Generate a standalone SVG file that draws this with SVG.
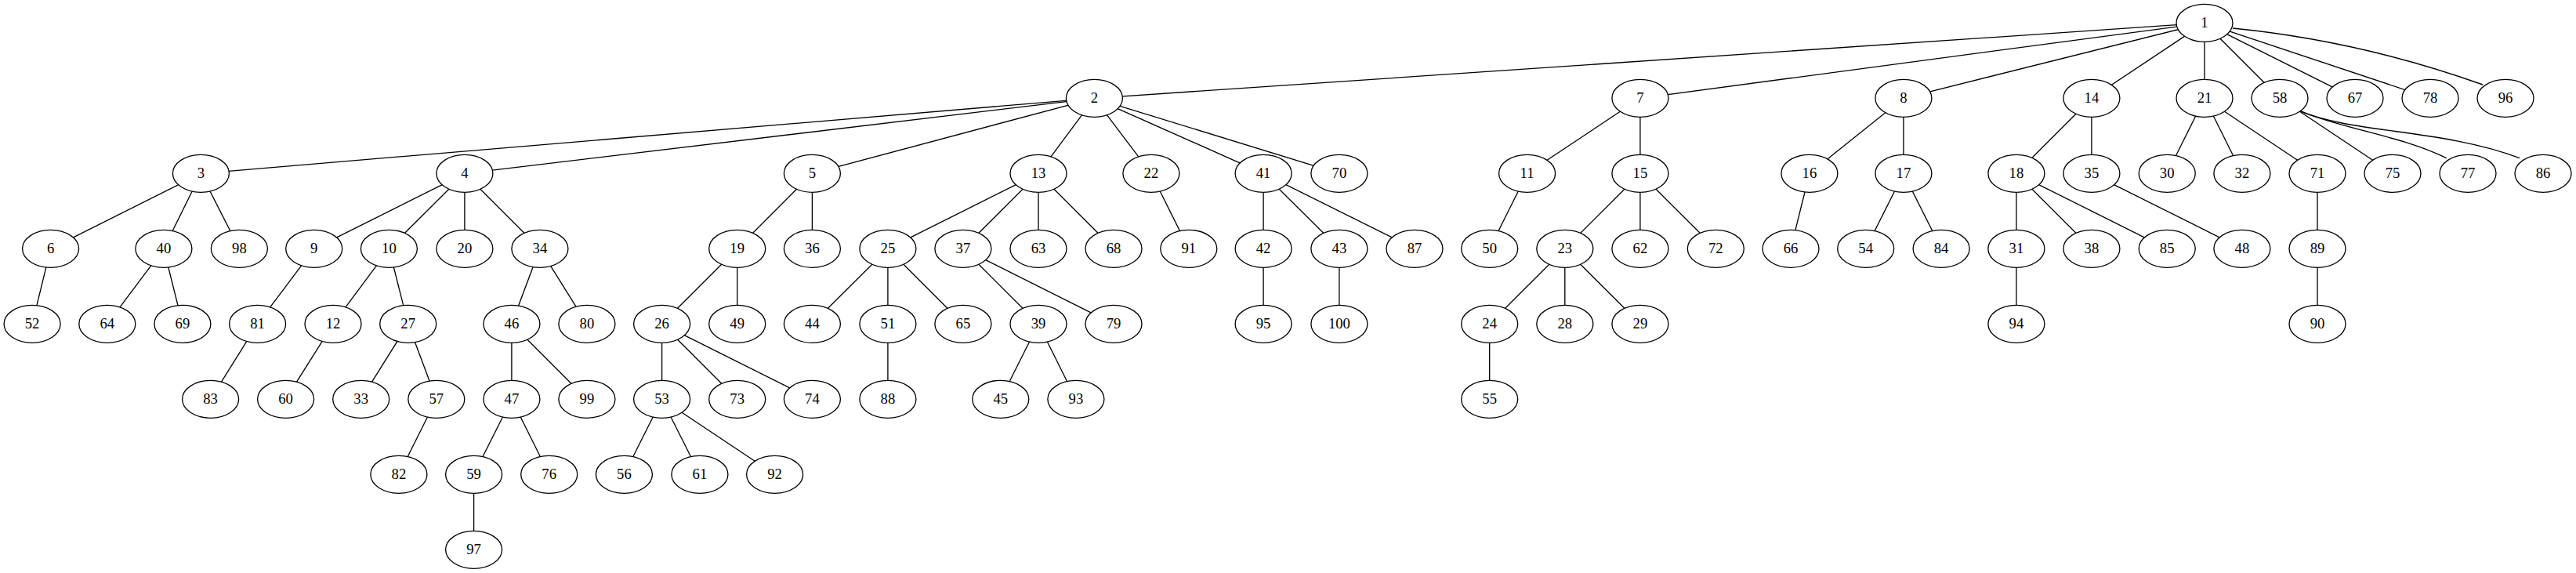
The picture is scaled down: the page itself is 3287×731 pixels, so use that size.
<svg xmlns="http://www.w3.org/2000/svg" width="3287" height="731" viewBox="0 0 3287 731">
<style>
.node ellipse{fill:#fff;stroke:#000;stroke-width:1.33}
.node text{font-family:"Liberation Serif","Times New Roman",serif;font-size:18.67px;text-anchor:middle;fill:#000}
#edges line,#edges path{stroke:#000;stroke-width:1.33;fill:none}
</style>
<rect width="3287" height="731" fill="#fff"/>
<g id="edges">
<line x1="2813" y1="29.3" x2="1396.4" y2="125.3"/>
<line x1="2813" y1="29.3" x2="2092.9" y2="125.3"/>
<line x1="2813" y1="29.3" x2="2428.9" y2="125.3"/>
<line x1="2813" y1="29.3" x2="2668.9" y2="125.3"/>
<line x1="2813" y1="29.3" x2="2813" y2="125.3"/>
<line x1="2813" y1="29.3" x2="2909" y2="125.3"/>
<line x1="2813" y1="29.3" x2="3005" y2="125.3"/>
<line x1="2813" y1="29.3" x2="3101" y2="125.3"/>
<path d="M2849,36 Q3011,52 3168,108"/>
<line x1="1396.4" y1="125.3" x2="256.4" y2="221.3"/>
<line x1="1396.4" y1="125.3" x2="592.9" y2="221.3"/>
<line x1="1396.4" y1="125.3" x2="1036.4" y2="221.3"/>
<line x1="1396.4" y1="125.3" x2="1325" y2="221.3"/>
<line x1="1396.4" y1="125.3" x2="1468.9" y2="221.3"/>
<line x1="1396.4" y1="125.3" x2="1612.1" y2="221.3"/>
<line x1="1396.4" y1="125.3" x2="1708.9" y2="221.3"/>
<line x1="256.4" y1="221.3" x2="64.6" y2="317.3"/>
<line x1="256.4" y1="221.3" x2="208.9" y2="317.3"/>
<line x1="256.4" y1="221.3" x2="305.4" y2="317.3"/>
<line x1="592.9" y1="221.3" x2="400.7" y2="317.3"/>
<line x1="592.9" y1="221.3" x2="496.4" y2="317.3"/>
<line x1="592.9" y1="221.3" x2="592.9" y2="317.3"/>
<line x1="592.9" y1="221.3" x2="688.9" y2="317.3"/>
<line x1="1036.4" y1="221.3" x2="940.7" y2="317.3"/>
<line x1="1036.4" y1="221.3" x2="1036.4" y2="317.3"/>
<line x1="64.6" y1="317.3" x2="41.1" y2="413.3"/>
<line x1="208.9" y1="317.3" x2="136.8" y2="413.3"/>
<line x1="208.9" y1="317.3" x2="232.9" y2="413.3"/>
<line x1="400.7" y1="317.3" x2="328.6" y2="413.3"/>
<line x1="496.4" y1="317.3" x2="425" y2="413.3"/>
<line x1="496.4" y1="317.3" x2="520.7" y2="413.3"/>
<line x1="688.9" y1="317.3" x2="652.9" y2="413.3"/>
<line x1="688.9" y1="317.3" x2="748.9" y2="413.3"/>
<line x1="940.7" y1="317.3" x2="844.6" y2="413.3"/>
<line x1="940.7" y1="317.3" x2="940.7" y2="413.3"/>
<line x1="1132.9" y1="317.3" x2="1036.4" y2="413.3"/>
<line x1="1132.9" y1="317.3" x2="1132.9" y2="413.3"/>
<line x1="1132.9" y1="317.3" x2="1228.9" y2="413.3"/>
<line x1="1325" y1="221.3" x2="1132.9" y2="317.3"/>
<line x1="1325" y1="221.3" x2="1228.9" y2="317.3"/>
<line x1="1325" y1="221.3" x2="1325" y2="317.3"/>
<line x1="1325" y1="221.3" x2="1421" y2="317.3"/>
<line x1="1468.9" y1="221.3" x2="1516.8" y2="317.3"/>
<line x1="1612.1" y1="221.3" x2="1612.1" y2="317.3"/>
<line x1="1612.1" y1="221.3" x2="1708.9" y2="317.3"/>
<line x1="1612.1" y1="221.3" x2="1805" y2="317.3"/>
<line x1="2092.9" y1="125.3" x2="1948.6" y2="221.3"/>
<line x1="2092.9" y1="125.3" x2="2092.9" y2="221.3"/>
<line x1="1948.6" y1="221.3" x2="1900.7" y2="317.3"/>
<line x1="2092.9" y1="221.3" x2="1996.8" y2="317.3"/>
<line x1="2092.9" y1="221.3" x2="2092.9" y2="317.3"/>
<line x1="2092.9" y1="221.3" x2="2189.3" y2="317.3"/>
<line x1="1996.8" y1="317.3" x2="1900.7" y2="413.3"/>
<line x1="1996.8" y1="317.3" x2="1996.8" y2="413.3"/>
<line x1="1996.8" y1="317.3" x2="2092.9" y2="413.3"/>
<line x1="1900.7" y1="413.3" x2="1900.7" y2="509.3"/>
<line x1="2428.9" y1="125.3" x2="2308.9" y2="221.3"/>
<line x1="2428.9" y1="125.3" x2="2428.9" y2="221.3"/>
<line x1="2308.9" y1="221.3" x2="2285" y2="317.3"/>
<line x1="2428.9" y1="221.3" x2="2380.7" y2="317.3"/>
<line x1="2428.9" y1="221.3" x2="2477.1" y2="317.3"/>
<line x1="2668.9" y1="125.3" x2="2572.9" y2="221.3"/>
<line x1="2668.9" y1="125.3" x2="2668.9" y2="221.3"/>
<line x1="2572.9" y1="221.3" x2="2572.9" y2="317.3"/>
<line x1="2572.9" y1="221.3" x2="2668.9" y2="317.3"/>
<line x1="2572.9" y1="221.3" x2="2765.2" y2="317.3"/>
<line x1="2572.9" y1="317.3" x2="2572.9" y2="413.3"/>
<line x1="2668.9" y1="221.3" x2="2860.9" y2="317.3"/>
<line x1="2813" y1="125.3" x2="2765.2" y2="221.3"/>
<line x1="2813" y1="125.3" x2="2860.9" y2="221.3"/>
<line x1="2813" y1="125.3" x2="2957" y2="221.3"/>
<line x1="2957" y1="221.3" x2="2957" y2="317.3"/>
<line x1="2957" y1="317.3" x2="2957" y2="413.3"/>
<line x1="2909" y1="125.3" x2="3053" y2="221.3"/>
<path d="M2935,141.7 C2990,165 3060,172 3121.7,201.7"/>
<path d="M2935,141.7 C3000,170 3120,165 3215,201.7"/>
<line x1="328.6" y1="413.3" x2="268.6" y2="509.3"/>
<line x1="425" y1="413.3" x2="364.6" y2="509.3"/>
<line x1="520.7" y1="413.3" x2="460.7" y2="509.3"/>
<line x1="520.7" y1="413.3" x2="556.8" y2="509.3"/>
<line x1="556.8" y1="509.3" x2="508.9" y2="605.3"/>
<line x1="652.9" y1="413.3" x2="652.9" y2="509.3"/>
<line x1="652.9" y1="413.3" x2="748.9" y2="509.3"/>
<line x1="652.9" y1="509.3" x2="604.6" y2="605.3"/>
<line x1="652.9" y1="509.3" x2="700.7" y2="605.3"/>
<line x1="604.6" y1="605.3" x2="604.6" y2="701.3"/>
<line x1="844.6" y1="413.3" x2="844.6" y2="509.3"/>
<line x1="844.6" y1="413.3" x2="940.7" y2="509.3"/>
<line x1="844.6" y1="413.3" x2="1036.4" y2="509.3"/>
<line x1="844.6" y1="509.3" x2="796.4" y2="605.3"/>
<line x1="844.6" y1="509.3" x2="892.9" y2="605.3"/>
<line x1="844.6" y1="509.3" x2="988.6" y2="605.3"/>
<line x1="1132.9" y1="413.3" x2="1132.9" y2="509.3"/>
<line x1="1228.9" y1="317.3" x2="1325" y2="413.3"/>
<line x1="1228.9" y1="317.3" x2="1421" y2="413.3"/>
<line x1="1325" y1="413.3" x2="1276.8" y2="509.3"/>
<line x1="1325" y1="413.3" x2="1372.9" y2="509.3"/>
<line x1="1612.1" y1="317.3" x2="1612.1" y2="413.3"/>
<line x1="1708.9" y1="317.3" x2="1708.9" y2="413.3"/>
</g>
<g id="node1" class="node"><ellipse cx="2813" cy="29.3" rx="36" ry="24"/><text x="2813" y="35.3">1</text></g>
<g id="node2" class="node"><ellipse cx="1396.4" cy="125.3" rx="36" ry="24"/><text x="1396.4" y="131.3">2</text></g>
<g id="node7" class="node"><ellipse cx="2092.9" cy="125.3" rx="36" ry="24"/><text x="2092.9" y="131.3">7</text></g>
<g id="node8" class="node"><ellipse cx="2428.9" cy="125.3" rx="36" ry="24"/><text x="2428.9" y="131.3">8</text></g>
<g id="node14" class="node"><ellipse cx="2668.9" cy="125.3" rx="36" ry="24"/><text x="2668.9" y="131.3">14</text></g>
<g id="node21" class="node"><ellipse cx="2813" cy="125.3" rx="36" ry="24"/><text x="2813" y="131.3">21</text></g>
<g id="node58" class="node"><ellipse cx="2909" cy="125.3" rx="36" ry="24"/><text x="2909" y="131.3">58</text></g>
<g id="node67" class="node"><ellipse cx="3005" cy="125.3" rx="36" ry="24"/><text x="3005" y="131.3">67</text></g>
<g id="node78" class="node"><ellipse cx="3101" cy="125.3" rx="36" ry="24"/><text x="3101" y="131.3">78</text></g>
<g id="node96" class="node"><ellipse cx="3197" cy="125.3" rx="36" ry="24"/><text x="3197" y="131.3">96</text></g>
<g id="node3" class="node"><ellipse cx="256.4" cy="221.3" rx="36" ry="24"/><text x="256.4" y="227.3">3</text></g>
<g id="node4" class="node"><ellipse cx="592.9" cy="221.3" rx="36" ry="24"/><text x="592.9" y="227.3">4</text></g>
<g id="node5" class="node"><ellipse cx="1036.4" cy="221.3" rx="36" ry="24"/><text x="1036.4" y="227.3">5</text></g>
<g id="node13" class="node"><ellipse cx="1325" cy="221.3" rx="36" ry="24"/><text x="1325" y="227.3">13</text></g>
<g id="node22" class="node"><ellipse cx="1468.9" cy="221.3" rx="36" ry="24"/><text x="1468.9" y="227.3">22</text></g>
<g id="node41" class="node"><ellipse cx="1612.1" cy="221.3" rx="36" ry="24"/><text x="1612.1" y="227.3">41</text></g>
<g id="node70" class="node"><ellipse cx="1708.9" cy="221.3" rx="36" ry="24"/><text x="1708.9" y="227.3">70</text></g>
<g id="node11" class="node"><ellipse cx="1948.6" cy="221.3" rx="36" ry="24"/><text x="1948.6" y="227.3">11</text></g>
<g id="node15" class="node"><ellipse cx="2092.9" cy="221.3" rx="36" ry="24"/><text x="2092.9" y="227.3">15</text></g>
<g id="node16" class="node"><ellipse cx="2308.9" cy="221.3" rx="36" ry="24"/><text x="2308.9" y="227.3">16</text></g>
<g id="node17" class="node"><ellipse cx="2428.9" cy="221.3" rx="36" ry="24"/><text x="2428.9" y="227.3">17</text></g>
<g id="node18" class="node"><ellipse cx="2572.9" cy="221.3" rx="36" ry="24"/><text x="2572.9" y="227.3">18</text></g>
<g id="node35" class="node"><ellipse cx="2668.9" cy="221.3" rx="36" ry="24"/><text x="2668.9" y="227.3">35</text></g>
<g id="node30" class="node"><ellipse cx="2765.2" cy="221.3" rx="36" ry="24"/><text x="2765.2" y="227.3">30</text></g>
<g id="node32" class="node"><ellipse cx="2860.9" cy="221.3" rx="36" ry="24"/><text x="2860.9" y="227.3">32</text></g>
<g id="node71" class="node"><ellipse cx="2957" cy="221.3" rx="36" ry="24"/><text x="2957" y="227.3">71</text></g>
<g id="node75" class="node"><ellipse cx="3053" cy="221.3" rx="36" ry="24"/><text x="3053" y="227.3">75</text></g>
<g id="node77" class="node"><ellipse cx="3149" cy="221.3" rx="36" ry="24"/><text x="3149" y="227.3">77</text></g>
<g id="node86" class="node"><ellipse cx="3245" cy="221.3" rx="36" ry="24"/><text x="3245" y="227.3">86</text></g>
<g id="node6" class="node"><ellipse cx="64.6" cy="317.3" rx="36" ry="24"/><text x="64.6" y="323.3">6</text></g>
<g id="node40" class="node"><ellipse cx="208.9" cy="317.3" rx="36" ry="24"/><text x="208.9" y="323.3">40</text></g>
<g id="node98" class="node"><ellipse cx="305.4" cy="317.3" rx="36" ry="24"/><text x="305.4" y="323.3">98</text></g>
<g id="node9" class="node"><ellipse cx="400.7" cy="317.3" rx="36" ry="24"/><text x="400.7" y="323.3">9</text></g>
<g id="node10" class="node"><ellipse cx="496.4" cy="317.3" rx="36" ry="24"/><text x="496.4" y="323.3">10</text></g>
<g id="node20" class="node"><ellipse cx="592.9" cy="317.3" rx="36" ry="24"/><text x="592.9" y="323.3">20</text></g>
<g id="node34" class="node"><ellipse cx="688.9" cy="317.3" rx="36" ry="24"/><text x="688.9" y="323.3">34</text></g>
<g id="node19" class="node"><ellipse cx="940.7" cy="317.3" rx="36" ry="24"/><text x="940.7" y="323.3">19</text></g>
<g id="node36" class="node"><ellipse cx="1036.4" cy="317.3" rx="36" ry="24"/><text x="1036.4" y="323.3">36</text></g>
<g id="node25" class="node"><ellipse cx="1132.9" cy="317.3" rx="36" ry="24"/><text x="1132.9" y="323.3">25</text></g>
<g id="node37" class="node"><ellipse cx="1228.9" cy="317.3" rx="36" ry="24"/><text x="1228.9" y="323.3">37</text></g>
<g id="node63" class="node"><ellipse cx="1325" cy="317.3" rx="36" ry="24"/><text x="1325" y="323.3">63</text></g>
<g id="node68" class="node"><ellipse cx="1421" cy="317.3" rx="36" ry="24"/><text x="1421" y="323.3">68</text></g>
<g id="node91" class="node"><ellipse cx="1516.8" cy="317.3" rx="36" ry="24"/><text x="1516.8" y="323.3">91</text></g>
<g id="node42" class="node"><ellipse cx="1612.1" cy="317.3" rx="36" ry="24"/><text x="1612.1" y="323.3">42</text></g>
<g id="node43" class="node"><ellipse cx="1708.9" cy="317.3" rx="36" ry="24"/><text x="1708.9" y="323.3">43</text></g>
<g id="node87" class="node"><ellipse cx="1805" cy="317.3" rx="36" ry="24"/><text x="1805" y="323.3">87</text></g>
<g id="node50" class="node"><ellipse cx="1900.7" cy="317.3" rx="36" ry="24"/><text x="1900.7" y="323.3">50</text></g>
<g id="node23" class="node"><ellipse cx="1996.8" cy="317.3" rx="36" ry="24"/><text x="1996.8" y="323.3">23</text></g>
<g id="node62" class="node"><ellipse cx="2092.9" cy="317.3" rx="36" ry="24"/><text x="2092.9" y="323.3">62</text></g>
<g id="node72" class="node"><ellipse cx="2189.3" cy="317.3" rx="36" ry="24"/><text x="2189.3" y="323.3">72</text></g>
<g id="node66" class="node"><ellipse cx="2285" cy="317.3" rx="36" ry="24"/><text x="2285" y="323.3">66</text></g>
<g id="node54" class="node"><ellipse cx="2380.7" cy="317.3" rx="36" ry="24"/><text x="2380.7" y="323.3">54</text></g>
<g id="node84" class="node"><ellipse cx="2477.1" cy="317.3" rx="36" ry="24"/><text x="2477.1" y="323.3">84</text></g>
<g id="node31" class="node"><ellipse cx="2572.9" cy="317.3" rx="36" ry="24"/><text x="2572.9" y="323.3">31</text></g>
<g id="node38" class="node"><ellipse cx="2668.9" cy="317.3" rx="36" ry="24"/><text x="2668.9" y="323.3">38</text></g>
<g id="node85" class="node"><ellipse cx="2765.2" cy="317.3" rx="36" ry="24"/><text x="2765.2" y="323.3">85</text></g>
<g id="node48" class="node"><ellipse cx="2860.9" cy="317.3" rx="36" ry="24"/><text x="2860.9" y="323.3">48</text></g>
<g id="node89" class="node"><ellipse cx="2957" cy="317.3" rx="36" ry="24"/><text x="2957" y="323.3">89</text></g>
<g id="node52" class="node"><ellipse cx="41.1" cy="413.3" rx="36" ry="24"/><text x="41.1" y="419.3">52</text></g>
<g id="node64" class="node"><ellipse cx="136.8" cy="413.3" rx="36" ry="24"/><text x="136.8" y="419.3">64</text></g>
<g id="node69" class="node"><ellipse cx="232.9" cy="413.3" rx="36" ry="24"/><text x="232.9" y="419.3">69</text></g>
<g id="node81" class="node"><ellipse cx="328.6" cy="413.3" rx="36" ry="24"/><text x="328.6" y="419.3">81</text></g>
<g id="node12" class="node"><ellipse cx="425" cy="413.3" rx="36" ry="24"/><text x="425" y="419.3">12</text></g>
<g id="node27" class="node"><ellipse cx="520.7" cy="413.3" rx="36" ry="24"/><text x="520.7" y="419.3">27</text></g>
<g id="node46" class="node"><ellipse cx="652.9" cy="413.3" rx="36" ry="24"/><text x="652.9" y="419.3">46</text></g>
<g id="node80" class="node"><ellipse cx="748.9" cy="413.3" rx="36" ry="24"/><text x="748.9" y="419.3">80</text></g>
<g id="node26" class="node"><ellipse cx="844.6" cy="413.3" rx="36" ry="24"/><text x="844.6" y="419.3">26</text></g>
<g id="node49" class="node"><ellipse cx="940.7" cy="413.3" rx="36" ry="24"/><text x="940.7" y="419.3">49</text></g>
<g id="node44" class="node"><ellipse cx="1036.4" cy="413.3" rx="36" ry="24"/><text x="1036.4" y="419.3">44</text></g>
<g id="node51" class="node"><ellipse cx="1132.9" cy="413.3" rx="36" ry="24"/><text x="1132.9" y="419.3">51</text></g>
<g id="node65" class="node"><ellipse cx="1228.9" cy="413.3" rx="36" ry="24"/><text x="1228.9" y="419.3">65</text></g>
<g id="node39" class="node"><ellipse cx="1325" cy="413.3" rx="36" ry="24"/><text x="1325" y="419.3">39</text></g>
<g id="node79" class="node"><ellipse cx="1421" cy="413.3" rx="36" ry="24"/><text x="1421" y="419.3">79</text></g>
<g id="node95" class="node"><ellipse cx="1612.1" cy="413.3" rx="36" ry="24"/><text x="1612.1" y="419.3">95</text></g>
<g id="node100" class="node"><ellipse cx="1708.9" cy="413.3" rx="36" ry="24"/><text x="1708.9" y="419.3">100</text></g>
<g id="node24" class="node"><ellipse cx="1900.7" cy="413.3" rx="36" ry="24"/><text x="1900.7" y="419.3">24</text></g>
<g id="node28" class="node"><ellipse cx="1996.8" cy="413.3" rx="36" ry="24"/><text x="1996.8" y="419.3">28</text></g>
<g id="node29" class="node"><ellipse cx="2092.9" cy="413.3" rx="36" ry="24"/><text x="2092.9" y="419.3">29</text></g>
<g id="node94" class="node"><ellipse cx="2572.9" cy="413.3" rx="36" ry="24"/><text x="2572.9" y="419.3">94</text></g>
<g id="node90" class="node"><ellipse cx="2957" cy="413.3" rx="36" ry="24"/><text x="2957" y="419.3">90</text></g>
<g id="node83" class="node"><ellipse cx="268.6" cy="509.3" rx="36" ry="24"/><text x="268.6" y="515.3">83</text></g>
<g id="node60" class="node"><ellipse cx="364.6" cy="509.3" rx="36" ry="24"/><text x="364.6" y="515.3">60</text></g>
<g id="node33" class="node"><ellipse cx="460.7" cy="509.3" rx="36" ry="24"/><text x="460.7" y="515.3">33</text></g>
<g id="node57" class="node"><ellipse cx="556.8" cy="509.3" rx="36" ry="24"/><text x="556.8" y="515.3">57</text></g>
<g id="node47" class="node"><ellipse cx="652.9" cy="509.3" rx="36" ry="24"/><text x="652.9" y="515.3">47</text></g>
<g id="node99" class="node"><ellipse cx="748.9" cy="509.3" rx="36" ry="24"/><text x="748.9" y="515.3">99</text></g>
<g id="node53" class="node"><ellipse cx="844.6" cy="509.3" rx="36" ry="24"/><text x="844.6" y="515.3">53</text></g>
<g id="node73" class="node"><ellipse cx="940.7" cy="509.3" rx="36" ry="24"/><text x="940.7" y="515.3">73</text></g>
<g id="node74" class="node"><ellipse cx="1036.4" cy="509.3" rx="36" ry="24"/><text x="1036.4" y="515.3">74</text></g>
<g id="node88" class="node"><ellipse cx="1132.9" cy="509.3" rx="36" ry="24"/><text x="1132.9" y="515.3">88</text></g>
<g id="node45" class="node"><ellipse cx="1276.8" cy="509.3" rx="36" ry="24"/><text x="1276.8" y="515.3">45</text></g>
<g id="node93" class="node"><ellipse cx="1372.9" cy="509.3" rx="36" ry="24"/><text x="1372.9" y="515.3">93</text></g>
<g id="node55" class="node"><ellipse cx="1900.7" cy="509.3" rx="36" ry="24"/><text x="1900.7" y="515.3">55</text></g>
<g id="node82" class="node"><ellipse cx="508.9" cy="605.3" rx="36" ry="24"/><text x="508.9" y="611.3">82</text></g>
<g id="node59" class="node"><ellipse cx="604.6" cy="605.3" rx="36" ry="24"/><text x="604.6" y="611.3">59</text></g>
<g id="node76" class="node"><ellipse cx="700.7" cy="605.3" rx="36" ry="24"/><text x="700.7" y="611.3">76</text></g>
<g id="node56" class="node"><ellipse cx="796.4" cy="605.3" rx="36" ry="24"/><text x="796.4" y="611.3">56</text></g>
<g id="node61" class="node"><ellipse cx="892.9" cy="605.3" rx="36" ry="24"/><text x="892.9" y="611.3">61</text></g>
<g id="node92" class="node"><ellipse cx="988.6" cy="605.3" rx="36" ry="24"/><text x="988.6" y="611.3">92</text></g>
<g id="node97" class="node"><ellipse cx="604.6" cy="701.3" rx="36" ry="24"/><text x="604.6" y="707.3">97</text></g>
</svg>
